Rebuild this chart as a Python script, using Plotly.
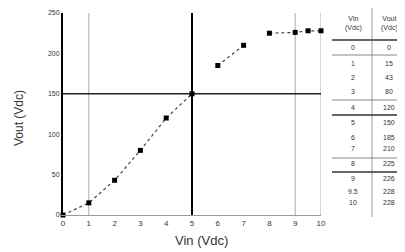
import plotly.graph_objects as go

vin = [0, 1, 2, 3, 4, 5, 6, 7, 8, 9, 9.5, 10]
vout = [0, 15, 43, 80, 120, 150, 185, 210, 225, 226, 228, 228]
x_ticks = [0, 1, 2, 3, 4, 5, 6, 7, 8, 9, 10]
y_ticks = [0, 50, 100, 150, 200, 250]
segments = [(0, 6), (6, 8), (8, 12)]
col_headers = ["Vin<br>(Vdc)", "Vout<br>(Vdc)"]
x_title = "Vin (Vdc)"
y_title = "Vout (Vdc)"

FONT = "Liberation Sans, Arial, sans-serif"
fig = go.Figure()
for a, b in segments:
    fig.add_trace(go.Scatter(x=vin[a:b], y=vout[a:b], mode="lines+markers",
                             line=dict(color="#444", width=1.2, dash="dot"),
                             marker=dict(symbol="square", size=5, color="black"),
                             showlegend=False, cliponaxis=False))

# reference lines
for xv, col, w in [(1, "#aaa", 1), (9, "#aaa", 1), (10, "#aaa", 1), (5, "black", 2)]:
    fig.add_shape(type="line", xref="x", yref="y", x0=xv, x1=xv, y0=0, y1=250,
                  line=dict(color=col, width=w), layer="below")
fig.add_shape(type="line", xref="x", yref="y", x0=0, x1=10, y0=150, y1=150,
              line=dict(color="#222", width=1.5), layer="below")

OFF = 8  # page body margin
W, H = 405 - OFF, 252 - OFF
L, R, T, B = 63 - OFF, 84, 13 - OFF, 37
pw, ph = W - L - R, H - T - B

def px(xp):
    return (xp - OFF - L) / pw

def py(yp):
    return 1 - (yp - OFF - T) / ph

def note(x, y, text, size, **kw):
    fig.add_annotation(xref="paper", yref="paper", x=px(x), y=py(y), text=text,
                       showarrow=False, xanchor="center", yanchor="middle",
                       font=dict(size=size, color="#333", family=FONT), **kw)

# axis titles
note(201, 241, x_title, 13)
note(19, 118, y_title, 12, textangle=-90)

# table
c1, c2, div = 353, 389, 372
fig.add_shape(type="line", xref="paper", yref="paper", x0=px(div), x1=px(div),
              y0=py(8), y1=py(217), line=dict(color="#999", width=1))
for txt, cx in zip(col_headers, [c1, c2]):
    note(cx, 23, txt, 7)
row_y = [48, 63, 77, 91, 107, 122, 137, 148, 163, 178, 191, 202]
for v_in, v_out, yy in zip(vin, vout, row_y):
    note(c1, yy, str(v_in), 7)
    note(c2, yy, str(v_out), 7)
for yy, w, col in [(40, 1.5, "#333"), (55, 1, "#888"), (100, 1, "#888"), (115, 1.5, "#333"),
                   (158, 1, "#888"), (172, 1.5, "#333")]:
    fig.add_shape(type="line", xref="paper", yref="paper", x0=px(332), x1=px(405),
                  y0=py(yy), y1=py(yy), line=dict(color=col, width=w))

fig.update_layout(
    width=W, height=H, margin=dict(l=L, r=R, t=T, b=B, autoexpand=False),
    plot_bgcolor="white", paper_bgcolor="white",
    font=dict(family=FONT, size=8, color="#333"),
    xaxis=dict(range=[0, 10], tickvals=x_ticks, showgrid=False, zeroline=False,
               showline=True, linecolor="#999", linewidth=1, ticks="", automargin=False,
               tickfont=dict(size=8)),
    yaxis=dict(range=[0, 250], tickvals=y_ticks, showgrid=False, zeroline=False,
               showline=True, linecolor="black", linewidth=2, ticks="", automargin=False,
               tickfont=dict(size=7)),
)
fig.write_html("out.html")
